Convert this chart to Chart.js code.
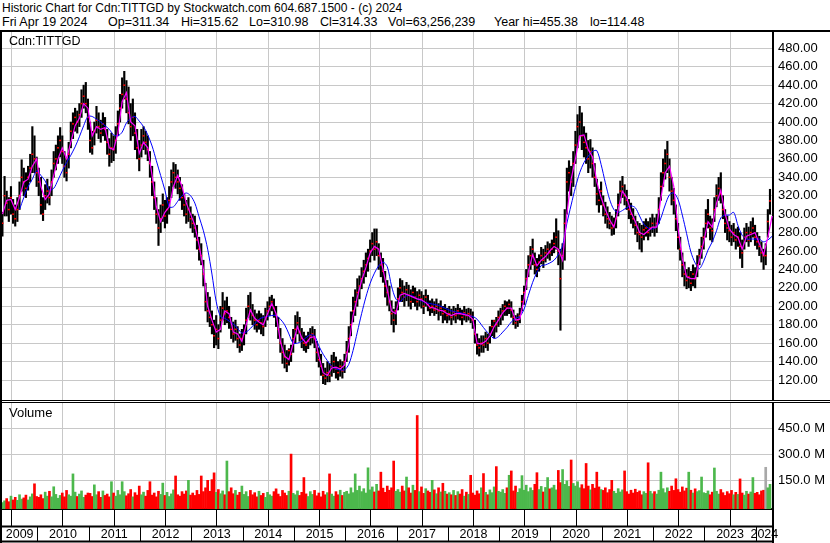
<!DOCTYPE html>
<html>
<head>
<meta charset="utf-8">
<script src="https://cdn.jsdelivr.net/npm/chart.js@4.4.1/dist/chart.umd.min.js"></script>
<style>
  html, body { margin: 0; padding: 0; background: #fff; }
  body { width: 830px; height: 543px; position: relative; overflow: hidden;
         font-family: "Liberation Sans", Arial, sans-serif; }
  #head1 { position: absolute; left: 2px; top: 2px; font-size: 12px; line-height: 13px; color: #000; white-space: pre; }
  .h2 { position: absolute; top: 15px; font-size: 12.5px; line-height: 15px; color: #000; white-space: pre; }
  .rule { position: absolute; background: #000; }
  .tag { position: absolute; line-height: 14px; color: #000; }
  canvas { position: absolute; }
</style>
</head>
<body>
<div id="head1">Historic Chart for Cdn:TITTGD by Stockwatch.com 604.687.1500 - (c) 2024</div>
<span class="h2" style="left:2px">Fri Apr 19 2024</span>
<span class="h2" style="left:108px">Op=311.34</span>
<span class="h2" style="left:181px">Hi=315.62</span>
<span class="h2" style="left:249px">Lo=310.98</span>
<span class="h2" style="left:320px">Cl=314.33</span>
<span class="h2" style="left:388px">Vol=63,256,239</span>
<span class="h2" style="left:494px">Year hi=455.38</span>
<span class="h2" style="left:590px">lo=114.48</span>

<div class="rule" style="left:0;top:30px;width:830px;height:2px"></div>
<div class="rule" style="left:0;top:30px;width:2px;height:513px"></div>

<canvas id="price" width="828" height="368" style="left:2px;top:32px"></canvas>
<div class="rule" style="left:0;top:400px;width:830px;height:1px"></div>
<div class="rule" style="left:0;top:402px;width:830px;height:1px"></div>
<canvas id="volume" width="828" height="140" style="left:2px;top:403px"></canvas>

<div class="tag" style="left:9px;top:34px;font-size:12.5px">Cdn:TITTGD</div>
<div class="tag" style="left:9px;top:406px;font-size:13px">Volume</div>

<script>
document.addEventListener('DOMContentLoaded', function () {

// half-month bars, first one at startYear
const startYear = 2009.32;
const barsPerYear = 24;
const maPerYear = 12;
const axisStart = 2009.312;
const axisEnd = 2024.337;

const yearTicks = [2010, 2011, 2012, 2013, 2014, 2015, 2016, 2017, 2018, 2019, 2020, 2021, 2022, 2023, 2024];
const yearLabels = ['2009', '2010', '2011', '2012', '2013', '2014', '2015', '2016', '2017', '2018', '2019', '2020', '2021', '2022', '2023', '2024'];
const priceTicks = [120, 140, 160, 180, 200, 220, 240, 260, 280, 300, 320, 340, 360, 380, 400, 420, 440, 460, 480];
const volumeTicks = [150, 300, 450];

const closes = [
  290, 320, 312, 305, 318, 300, 295, 305, 320, 340, 335, 328, 340, 350, 365, 360, 345,
  335, 310, 300, 320, 325, 318, 335, 355, 360, 372, 380, 368, 352, 345, 365, 390, 398, 405, 400, 408, 420, 428, 420, 405,
  380, 372, 390, 402, 395, 388, 398, 392, 378, 365, 372, 370, 380, 398, 415, 430, 440, 425, 410, 395, 405, 388, 372, 360,
  375, 385, 378, 370, 355, 335, 318, 300, 285, 295, 310, 298, 305, 315, 335, 345, 340, 335, 328, 318, 310, 300, 305, 295,
  290, 285, 272, 262, 255, 235, 205, 195, 188, 180, 168, 175, 165, 185, 198, 192, 195, 188, 175, 170, 175, 165, 158, 165,
  170, 185, 200, 195, 190, 185, 180, 185, 182, 178, 188, 195, 200, 205, 198, 190, 175, 160, 150, 145, 138, 152, 148, 165,
  175, 182, 172, 165, 160, 158, 162, 168, 170, 165, 150, 142, 135, 125, 122, 128, 125, 135, 140, 132, 128, 135, 130, 140,
  150, 165, 180, 195, 205, 215, 222, 230, 238, 245, 252, 260, 268, 262, 270, 255, 245, 238, 222, 215, 205, 192, 185, 195,
  208, 220, 215, 210, 218, 212, 205, 215, 210, 205, 212, 208, 200, 210, 202, 198, 200, 196, 200, 195, 198, 192, 195, 190,
  192, 188, 194, 190, 195, 192, 188, 193, 190, 192, 190, 185, 170, 158, 155, 160, 158, 165, 160, 170, 178, 184, 180, 188,
  190, 195, 200, 198, 202, 196, 188, 182, 185, 190, 205, 215, 230, 245, 255, 262, 245, 240, 248, 255, 250, 258, 262, 258,
  262, 268, 275, 260, 230, 255, 290, 335, 345, 335, 355, 375, 395, 400, 385, 378, 372, 360, 368, 355, 340, 322, 315, 325,
  310, 300, 295, 290, 285, 288, 295, 310, 325, 330, 320, 315, 305, 300, 295, 288, 280, 278, 275, 283, 285, 280, 285, 290,
  285, 290, 305, 330, 345, 355, 365, 340, 325, 315, 295, 275, 262, 245, 235, 228, 232, 225, 235, 230, 245, 255, 265, 275,
  290, 300, 285, 282, 305, 320, 328, 322, 305, 290, 285, 282, 275, 280, 272, 275, 265, 258, 275, 280, 272, 280, 285, 275,
  270, 265, 258, 255, 255, 292, 314.33
];

const highs = [
  302, 341, 325, 318, 330, 316, 310, 318, 335, 359, 350, 345, 352, 365, 395, 385, 362,
  350, 340, 318, 332, 338, 330, 348, 368, 375, 385, 394, 385, 368, 360, 378, 400, 410, 415, 412, 420, 435, 440, 443, 425,
  400, 390, 400, 417, 410, 402, 410, 405, 392, 382, 388, 385, 395, 412, 430, 448, 455, 445, 438, 420, 425, 410, 392, 380,
  392, 395, 390, 385, 368, 352, 335, 318, 305, 310, 322, 315, 318, 330, 348, 356, 354, 348, 340, 332, 322, 315, 318, 308,
  300, 298, 288, 275, 268, 250, 225, 215, 210, 195, 185, 190, 180, 200, 215, 206, 210, 200, 188, 183, 185, 178, 170, 175,
  180, 198, 212, 215, 202, 196, 192, 195, 192, 190, 198, 205, 210, 212, 208, 200, 188, 176, 165, 158, 152, 154, 158, 175,
  190, 194, 188, 176, 172, 168, 172, 176, 178, 175, 162, 155, 148, 138, 133, 140, 138, 147, 150, 145, 140, 142, 140, 148,
  162, 178, 194, 210, 218, 230, 233, 242, 250, 258, 262, 272, 280, 284, 284, 268, 258, 252, 238, 228, 222, 206, 197, 205,
  220, 230, 228, 222, 226, 223, 218, 222, 220, 216, 218, 216, 212, 218, 212, 206, 208, 205, 208, 203, 206, 200, 202, 198,
  200, 197, 200, 198, 202, 198, 196, 200, 197, 198, 197, 194, 185, 170, 165, 168, 168, 172, 170, 178, 185, 185, 188, 195,
  198, 202, 206, 205, 207, 205, 196, 190, 192, 198, 212, 222, 240, 255, 265, 273, 258, 252, 256, 264, 262, 266, 270, 268,
  272, 280, 295, 282, 262, 268, 305, 350, 358, 352, 368, 390, 408, 417, 410, 395, 388, 380, 381, 372, 355, 338, 327, 335,
  320, 313, 308, 302, 298, 296, 305, 322, 336, 341, 332, 326, 316, 312, 306, 298, 292, 290, 288, 292, 295, 292, 296, 300,
  296, 300, 318, 345, 360, 370, 379, 360, 340, 328, 310, 290, 275, 258, 248, 240, 242, 238, 245, 242, 255, 262, 275, 285,
  305, 316, 298, 295, 318, 332, 340, 345, 320, 305, 298, 292, 288, 290, 284, 286, 280, 272, 285, 290, 286, 292, 296, 288,
  280, 276, 270, 262, 268, 305, 327
];

const lows = [
  276, 298, 298, 292, 300, 290, 287, 292, 305, 325, 320, 318, 326, 335, 345, 345, 330,
  320, 300, 293, 305, 312, 310, 320, 340, 348, 355, 362, 355, 340, 336, 350, 372, 382, 390, 388, 395, 405, 415, 410, 392,
  367, 365, 375, 388, 382, 378, 385, 380, 365, 352, 356, 358, 366, 385, 400, 415, 425, 410, 398, 380, 385, 370, 360, 347,
  362, 370, 365, 358, 340, 320, 305, 290, 266, 280, 292, 285, 290, 300, 318, 330, 328, 322, 315, 305, 298, 290, 292, 285,
  280, 275, 262, 250, 245, 222, 195, 183, 178, 170, 155, 158, 154, 172, 185, 180, 182, 176, 165, 161, 163, 155, 150, 152,
  158, 170, 188, 185, 180, 175, 172, 175, 170, 168, 178, 185, 190, 195, 188, 178, 165, 150, 138, 133, 129, 136, 140, 150,
  160, 170, 162, 155, 152, 150, 154, 158, 160, 155, 140, 134, 125, 116, 115, 118, 118, 124, 128, 122, 120, 124, 122, 128,
  140, 150, 168, 183, 190, 200, 208, 219, 225, 232, 238, 248, 255, 250, 255, 240, 232, 226, 210, 201, 195, 180, 172, 180,
  196, 205, 205, 200, 206, 200, 197, 204, 200, 196, 200, 198, 192, 200, 195, 190, 193, 190, 192, 185, 190, 182, 185, 182,
  185, 180, 185, 182, 186, 185, 180, 185, 183, 185, 182, 176, 160, 148, 146, 150, 150, 155, 152, 160, 168, 166, 172, 178,
  180, 185, 190, 190, 192, 188, 180, 176, 178, 182, 195, 202, 218, 232, 240, 245, 235, 232, 238, 246, 242, 248, 252, 250,
  255, 258, 262, 245, 174, 240, 250, 300, 325, 320, 330, 355, 372, 385, 370, 362, 355, 345, 350, 340, 330, 310, 302, 310,
  298, 290, 285, 284, 277, 278, 285, 298, 312, 318, 310, 305, 295, 290, 285, 278, 270, 262, 259, 272, 276, 272, 276, 280,
  276, 280, 290, 315, 330, 338, 345, 325, 310, 300, 282, 262, 250, 232, 222, 219, 220, 217, 222, 220, 232, 245, 252, 262,
  275, 285, 272, 270, 292, 308, 315, 312, 295, 280, 272, 270, 266, 270, 262, 265, 252, 242, 262, 270, 265, 270, 275, 266,
  262, 255, 248, 240, 245, 275, 300
];

// millions of shares per bar
const volumes = [
  25, 35, 48, 30, 62, 40, 55, 38, 70, 45, 52, 68, 40, 58, 75, 133, 60,
  55, 70, 48, 85, 62, 90, 58, 116, 72, 50, 66, 80, 58, 95, 70, 62, 190, 85, 60, 74, 92, 55, 68, 80,
  78, 60, 127, 70, 88, 55, 92, 66, 74, 58, 145, 80, 62, 95, 70, 145, 88, 64, 76, 100, 58, 82, 68, 120,
  70, 85, 62, 95, 145, 68, 80, 58, 90, 72, 137, 66, 84, 60, 75, 98, 178, 70, 62, 88, 74, 92, 153, 68,
  80, 66, 95, 72, 178, 88, 110, 153, 90, 157, 196, 84, 100, 76, 92, 70, 264, 88, 110, 76, 95, 68, 84, 120,
  72, 88, 60, 95, 70, 82, 58, 90, 66, 78, 55, 84, 70, 62, 88, 104, 74, 60, 95, 80, 66, 90, 304, 78,
  70, 92, 66, 84, 169, 75, 60, 88, 72, 95, 64, 80, 58, 90, 70, 82, 190, 74, 62, 88, 70, 96, 66, 84,
  90, 75, 110, 82, 190, 95, 120, 88, 105, 80, 225, 98, 115, 86, 130, 92, 200, 108, 84, 120, 96, 110, 264, 90,
  100, 85, 120, 92, 172, 110, 80, 125, 95, 526, 88, 115, 78, 105, 92, 84, 153, 98, 76, 110, 86, 136, 90, 74,
  82, 70, 95, 66, 88, 74, 100, 62, 85, 72, 182, 80, 68, 92, 76, 110, 192, 84, 70, 98, 82, 115, 232, 90,
  85, 100, 78, 110, 182, 207, 92, 120, 84, 105, 180, 96, 125, 88, 110, 95, 130, 197, 100, 118, 86, 112, 169, 104,
  110, 125, 98, 210, 140, 215, 130, 150, 118, 270, 135, 120, 145, 110, 128, 105, 250, 120, 98, 130, 108, 200, 115, 100,
  95, 110, 82, 100, 153, 90, 78, 105, 86, 98, 207, 88, 74, 96, 80, 102, 84, 92, 70, 88, 78, 254, 90, 76,
  88, 74, 96, 200, 105, 82, 110, 90, 120, 95, 162, 100, 85, 115, 92, 108, 200, 96, 80, 104, 88, 94, 172, 82,
  78, 92, 70, 85, 224, 90, 74, 100, 82, 66, 88, 76, 95, 70, 84, 72, 161, 80, 68, 90, 74, 86, 169, 78,
  84, 70, 92, 96, 228, 110, 130
];

// monthly readings of the two moving average lines
const fastAvg = [
  300, 315, 316, 305, 318, 335, 338, 352, 360,
  330, 316, 322, 342, 360, 372, 360, 378, 396, 404, 420, 415,
  385, 395, 392, 394, 372, 370, 388, 422, 432, 400, 396, 366,
  378, 372, 342, 308, 292, 302, 308, 330, 342, 330, 312, 300,
  288, 266, 240, 200, 185, 172, 175, 195, 192, 172, 170, 162,
  180, 196, 187, 183, 180, 192, 203, 192, 162, 146, 142, 160,
  178, 166, 160, 166, 167, 146, 128, 125, 133, 134, 132, 136,
  158, 190, 210, 228, 242, 258, 265, 262, 240, 218, 195, 192,
  212, 214, 212, 210, 208, 207, 204, 199, 198, 196, 195, 192,
  190, 192, 192, 191, 190, 186, 160, 159, 162, 168, 178, 185,
  193, 198, 198, 185, 186, 208, 238, 256, 244, 250, 254, 260,
  265, 262, 250, 300, 338, 360, 385, 386, 370, 362, 335, 318,
  305, 294, 286, 305, 325, 318, 302, 292, 280, 278, 282, 286,
  286, 318, 345, 352, 330, 285, 252, 232, 230, 230, 250, 270,
  292, 286, 312, 326, 300, 284, 278, 275, 262, 276, 278, 280,
  268, 256, 275, 298
];

const slowAvg = [
  null, null, null, null, 305, 318, 330, 338, 347,
  342, 336, 326, 328, 337, 347, 356, 364, 373, 384, 396, 406,
  406, 403, 400, 396, 392, 386, 385, 389, 399, 404, 406, 401,
  395, 386, 374, 358, 342, 326, 308, 308, 314, 320, 323, 320,
  312, 297, 282, 262, 235, 205, 189, 187, 184, 181, 176, 171,
  172, 176, 181, 186, 188, 189, 190, 190, 186, 180, 170, 160,
  160, 162, 166, 169, 168, 157, 148, 141, 135, 132, 131, 131,
  137, 152, 172, 192, 210, 225, 236, 244, 248, 243, 222, 208,
  205, 210, 212, 211, 208, 206, 204, 203, 202, 201, 199, 197,
  195, 194, 193, 192, 190, 189, 186, 180, 174, 169, 165, 167,
  172, 177, 183, 187, 189, 197, 212, 226, 237, 244, 245, 247,
  250, 256, 266, 290, 310, 329, 345, 356, 363, 368, 369, 354,
  334, 316, 305, 302, 304, 307, 309, 307, 298, 289, 285, 284,
  286, 296, 310, 321, 323, 316, 299, 279, 259, 247, 241, 249,
  261, 270, 282, 296, 299, 299, 302, 288, 277, 273, 273, 273,
  273, 270, 272, 276
];

const FONT = { family: '"Liberation Sans", Arial, sans-serif', size: 13 };
const GRID = '#c8c8c8';

const barX = i => startYear + i / barsPerYear;
const maX = i => startYear + i / maPerYear;

const rangeBars = lows.map((lo, i) => ({ x: barX(i), y: [lo, highs[i]] }));
const closeMarks = closes.map((c, i) => ({ x: barX(i), y: c }));
const fastLine = fastAvg.map((v, i) => ({ x: maX(i), y: v }));
const slowLine = slowAvg.map((v, i) => ({ x: maX(i), y: v }));
const volBars = volumes.map((v, i) => ({ x: barX(i), y: v }));
const volColors = closes.map((c, i) => {
    if (i === 0 || c > closes[i - 1]) return '#4cb84c';
    if (c < closes[i - 1]) return '#ff0000';
    return '#a8a8a8';
});

function yearScale(showGrid) {
    return {
        type: 'linear',
        min: axisStart,
        max: axisEnd,
        offset: false,
        afterBuildTicks: s => { s.ticks = yearTicks.map(v => ({ value: v })); },
        ticks: { display: false },
        grid: { color: GRID, drawTicks: showGrid, tickLength: 17, tickColor: '#000' },
        border: { display: showGrid, color: '#000', width: 2 },
        afterFit: s => { s.height = showGrid ? 34 : 0; s.paddingLeft = 0; s.paddingRight = 0; }
    };
}

function rightScale(min, max, ticks, fmt) {
    return {
        position: 'right',
        min: min,
        max: max,
        afterBuildTicks: s => { s.ticks = ticks.map(v => ({ value: v })); },
        ticks: { font: FONT, color: '#000', padding: 5, callback: fmt },
        grid: { color: GRID, drawTicks: false },
        border: { display: true, color: '#000', width: 2 },
        afterFit: s => { s.width = 57; s.paddingTop = 0; s.paddingBottom = 0; }
    };
}

const common = {
    responsive: false,
    animation: false,
    events: [],
    layout: { padding: 0, autoPadding: false },
    plugins: { legend: { display: false }, tooltip: { enabled: false } }
};

new Chart(document.getElementById('price'), {
    type: 'bar',
    data: {
        datasets: [
            { type: 'line', data: fastLine, borderColor: '#ff00ff', borderWidth: 1.2, pointRadius: 0, tension: 0, order: 0 },
            { type: 'line', data: slowLine, borderColor: '#0000ff', borderWidth: 1, pointRadius: 0, tension: 0.3, spanGaps: false, order: 1 },
            { type: 'line', data: closeMarks, showLine: false, pointStyle: 'line', pointRadius: 1, pointBorderWidth: 1.5, pointBorderColor: '#ff0000', order: 2 },
            { type: 'bar', data: rangeBars, backgroundColor: '#000', barThickness: 1.5, order: 3 }
        ]
    },
    options: Object.assign({}, common, {
        scales: {
            x: yearScale(false),
            y: rightScale(98.3, 497.7, priceTicks, v => v.toFixed(2))
        }
    })
});

const yearAxis = {
    id: 'yearAxis',
    afterDraw(chart) {
        const { ctx, chartArea } = chart;
        const x = chart.scales.x;
        const rowTop = chartArea.bottom + 17.5;
        const rowBottom = chart.height - 1.5;
        ctx.save();
        ctx.strokeStyle = '#000';
        ctx.lineWidth = 2;
        ctx.beginPath();
        ctx.moveTo(-2, rowTop); ctx.lineTo(chartArea.right, rowTop);
        ctx.moveTo(-2, rowBottom); ctx.lineTo(chartArea.right, rowBottom);
        ctx.moveTo(chartArea.right, chartArea.bottom); ctx.lineTo(chartArea.right, chart.height);
        ctx.stroke();
        ctx.lineWidth = 1;
        ctx.beginPath();
        yearTicks.forEach(v => {
            const px = Math.round(x.getPixelForValue(v)) + 0.5;
            ctx.moveTo(px, rowTop); ctx.lineTo(px, rowBottom);
        });
        ctx.stroke();
        ctx.fillStyle = '#000';
        ctx.font = '12.5px "Liberation Sans", Arial, sans-serif';
        ctx.textAlign = 'center';
        ctx.textBaseline = 'middle';
        yearLabels.forEach(label => {
            const y0 = Math.max(+label, axisStart);
            const y1 = Math.min(+label + 1, axisEnd);
            const cx = (x.getPixelForValue(y0) + x.getPixelForValue(y1)) / 2;
            ctx.fillText(label, cx, (rowTop + rowBottom) / 2 + 0.5);
        });
        ctx.restore();
    }
};

new Chart(document.getElementById('volume'), {
    type: 'bar',
    data: {
        datasets: [
            { data: volBars, backgroundColor: volColors, barThickness: 2, base: -12 }
        ]
    },
    options: Object.assign({}, common, {
        scales: {
            x: yearScale(true),
            y: rightScale(-12, 598, volumeTicks, v => v.toFixed(1) + ' M')
        }
    }),
    plugins: [yearAxis]
});

}, false);
</script>
</body>
</html>
